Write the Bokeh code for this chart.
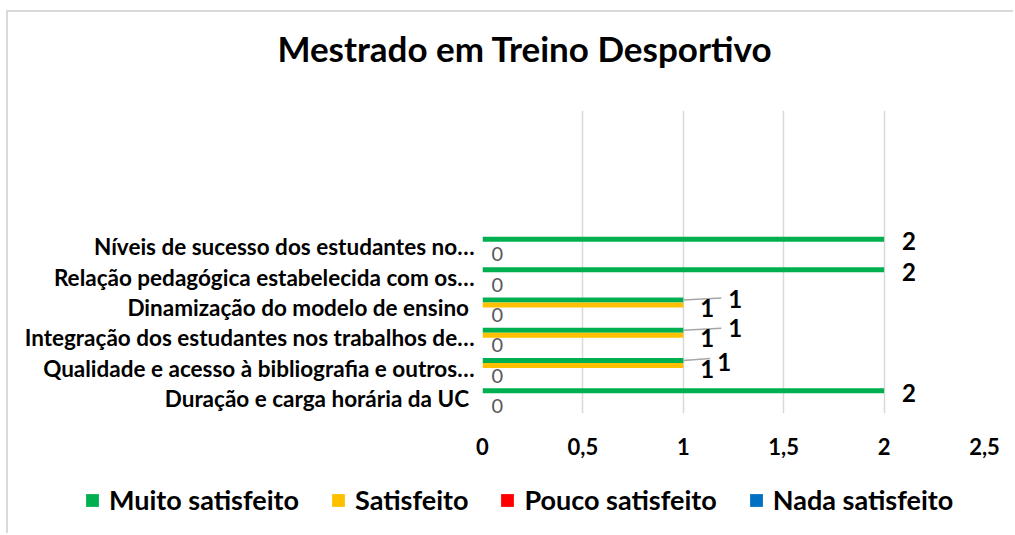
from bokeh.plotting import figure
from bokeh.layouts import column, row
from bokeh.models import (FactorRange, ColumnDataSource, LabelSet, Label, Legend,
                          LegendItem, FixedTicker)
from bokeh.transform import dodge
from bokeh.core.properties import value
from bokeh.embed import file_html
from bokeh.resources import INLINE

# ---------------- data ----------------
title_text = "Mestrado em Treino Desportivo"
categories = [
    "Duração e carga horária da UC ",
    "Qualidade e acesso à bibliografia e outros…",
    "Integração dos estudantes nos trabalhos de…",
    "Dinamização do modelo de ensino ",
    "Relação pedagógica estabelecida com os…",
    "Níveis de sucesso dos estudantes no…",
]
series_names = ["Muito satisfeito", "Satisfeito", "Pouco satisfeito", "Nada satisfeito"]
muito = [2, 1, 1, 1, 2, 2]
satisfeito = [0, 1, 1, 1, 0, 0]
pouco = [0, 0, 0, 0, 0, 0]
nada = [0, 0, 0, 0, 0, 0]
x_ticks = [0, 0.5, 1, 1.5, 2, 2.5]
x_tick_labels = ["0", "0,5", "1", "1,5", "2", "2,5"]

# ---------------- style ----------------
colors = ["#00B050", "#FFC000", "#FF0000", "#0070C0"]
FONT = "Lato"
GRID = "#d9d9d9"
EDGE = "2px solid #d9d9d9"

W = 1005
HT, H1, H2 = 60, 403, 58          # title strip, chart, legend strip
ML, MT, MB = 474, 38, 62
frame_w = 502
MR = W - ML - frame_w
frame_h = H1 - MT - MB
blank = [" " * (i + 1) for i in range(4)]
factors = categories + blank
px_per_unit = frame_w / 2.5
px_per_factor = frame_h / len(factors)
bar_h = 5 / px_per_factor
offsets = [1.5 * bar_h, 0.5 * bar_h, -0.5 * bar_h, -1.5 * bar_h]

# label placement (pixels) for the "Muito satisfeito" labels (moved ones get leader lines)
green_dx = [18, 34, 45, 45, 18, 18]
green_dy = [-2, -1, 2, 1, -2, -2]

# ---------------- title strip ----------------
tf = figure(width=W, height=HT, x_range=(0, W), y_range=(0, HT), output_backend="svg",
            toolbar_location=None, min_border=0)
tf.axis.visible = False
tf.grid.visible = False
tf.outline_line_color = None
tf.add_layout(Label(x=516.5, y=HT - 35, text=title_text, text_font=FONT, text_font_style="bold",
                    text_font_size="35px", text_align="center", text_baseline="middle",
                    text_color="black"))

# ---------------- chart ----------------
p = figure(width=W, height=H1, y_range=FactorRange(factors=factors), x_range=(0, 2.5),
           output_backend="svg", toolbar_location=None,
           min_border_left=ML, min_border_right=MR, min_border_top=MT, min_border_bottom=MB)
p.outline_line_color = None
p.background_fill_color = "white"
p.border_fill_color = "white"

src = ColumnDataSource(dict(cat=categories, muito=muito, satisfeito=satisfeito,
                            pouco=pouco, nada=nada,
                            muito_txt=[str(v) for v in muito],
                            sat_txt=[str(v) if v else "" for v in satisfeito],
                            nada_txt=[str(v) for v in nada],
                            gdx=green_dx, gdy=green_dy,
                            lead_x1=[v + (dx - 7) / px_per_unit if dx > 25 else v
                                     for v, dx in zip(muito, green_dx)],
                            lead_alpha=[1 if dx > 25 else 0 for dx in green_dx]))

keys = ["muito", "satisfeito", "pouco", "nada"]
for k, c, off in zip(keys, colors, offsets):
    p.hbar(y=dodge("cat", off, range=p.y_range), right=k, left=0, height=bar_h,
           source=src, fill_color=c, line_color=None)

# leader lines
p.segment(x0="muito", y0=dodge("cat", offsets[0], range=p.y_range),
          x1="lead_x1", y1=dodge("cat", offsets[0] + 2 / px_per_factor, range=p.y_range),
          source=src, line_color="#a6a6a6", line_width=1.5, line_alpha="lead_alpha")

lbl_common = dict(text_font=value(FONT), text_baseline="middle", text_align="left")
p.add_layout(LabelSet(x="muito", y=dodge("cat", offsets[0], range=p.y_range), text="muito_txt",
                      x_offset="gdx", y_offset="gdy", source=src, text_font_size="24px",
                      text_font_style="bold", text_color="black", **lbl_common))
p.add_layout(LabelSet(x="satisfeito", y=dodge("cat", offsets[1], range=p.y_range), text="sat_txt",
                      x_offset=17, y_offset=-3, source=src, text_font_size="24px",
                      text_font_style="bold", text_color="black", **lbl_common))
p.add_layout(LabelSet(x="nada", y=dodge("cat", offsets[3], range=p.y_range), text="nada_txt",
                      x_offset=9, y_offset=0, source=src, text_font_size="20px",
                      text_color="#595959", **lbl_common))

p.xaxis.ticker = FixedTicker(ticks=x_ticks)
p.xaxis.major_label_overrides = {t: s for t, s in zip(x_ticks, x_tick_labels)}
p.xaxis.axis_line_color = None
p.xaxis.major_tick_line_color = None
p.xaxis.minor_tick_line_color = None
p.xaxis.major_tick_out = 0
p.xaxis.major_label_standoff = 24
p.xaxis.major_label_text_font = FONT
p.xaxis.major_label_text_font_style = "bold"
p.xaxis.major_label_text_font_size = "22px"
p.xaxis.major_label_text_color = "black"

p.yaxis.axis_line_color = None
p.yaxis.major_tick_line_color = None
p.yaxis.major_tick_out = 0
p.yaxis.major_label_standoff = 8
p.yaxis.major_label_text_font = FONT
p.yaxis.major_label_text_font_style = "bold"
p.yaxis.major_label_text_font_size = "22.5px"
p.yaxis.major_label_text_color = "black"

p.xgrid.grid_line_color = GRID
p.xgrid.grid_line_width = 1.5
p.ygrid.grid_line_color = None

# ---------------- legend strip ----------------
lg = figure(width=W, height=H2, x_range=(0, 1), y_range=(0, 1), output_backend="svg",
            toolbar_location=None, min_border=0)
lg.axis.visible = False
lg.grid.visible = False
lg.outline_line_color = None
lg.border_fill_color = "white"
leg_renderers = []
for k, c in zip(keys, colors):
    r = lg.hbar(y=0.5, right=k, left=0, height=0.1, source=src,
                fill_color=c, line_color=None, visible=False)
    leg_renderers.append(r)
legend = Legend(items=[LegendItem(label=n, renderers=[r]) for n, r in zip(series_names, leg_renderers)],
                location=(76, 17), orientation="horizontal", glyph_width=16, glyph_height=16,
                label_standoff=9, spacing=31, padding=0, margin=0, border_line_color=None,
                background_fill_alpha=0, label_text_font=FONT, label_text_font_style="bold",
                label_text_font_size="27px", label_text_color="black")
lg.add_layout(legend)

layout = column(row(tf), p, row(lg), spacing=0,
                styles={"margin-left": "6px", "margin-top": "10px",
                        "border-left": EDGE, "border-top": EDGE})
open("out.html", "w").write(file_html(layout, INLINE))
